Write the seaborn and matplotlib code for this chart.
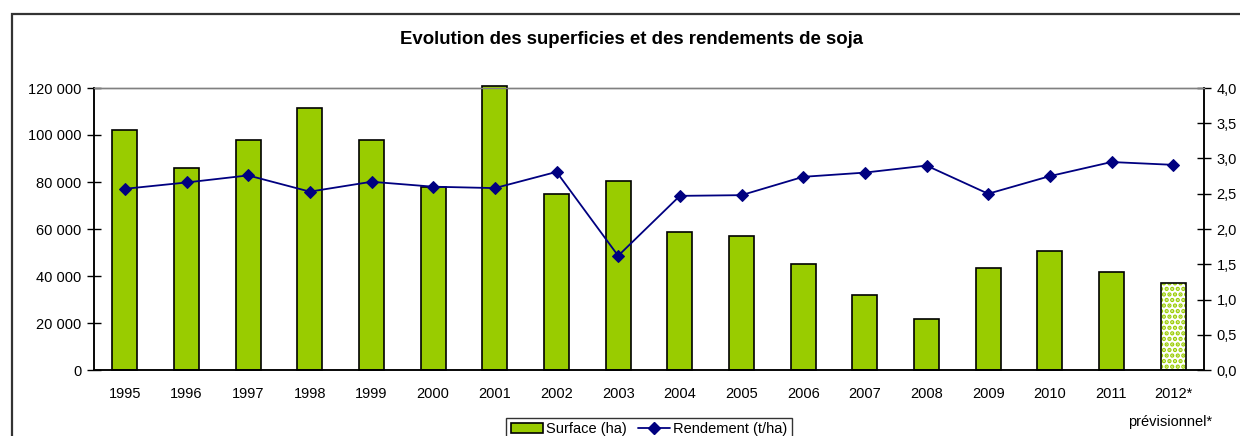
import numpy as np
import matplotlib
matplotlib.use("Agg")
import matplotlib.pyplot as plt
import matplotlib.ticker as mticker
from matplotlib.patches import Patch, Rectangle
from matplotlib.lines import Line2D
import seaborn as sns

# données
years = ["1995", "1996", "1997", "1998", "1999", "2000", "2001", "2002", "2003",
         "2004", "2005", "2006", "2007", "2008", "2009", "2010", "2011", "2012*"]
surface = [102000, 86000, 98000, 111500, 98000, 78000, 121000, 75000, 80500,
           58600, 57000, 45000, 32000, 21700, 43500, 50800, 41800, 37000]
rendement = [2.57, 2.66, 2.76, 2.53, 2.67, 2.60, 2.58, 2.81, 1.62,
             2.47, 2.48, 2.74, 2.80, 2.90, 2.50, 2.75, 2.95, 2.91]

green = "#99CC00"
navy = "#000080"

sns.set_style("white")
plt.rcParams["font.family"] = ["Liberation Sans", "DejaVu Sans"]
plt.rcParams["text.color"] = "black"
plt.rcParams["xtick.color"] = "black"
plt.rcParams["ytick.color"] = "black"
plt.rcParams["hatch.linewidth"] = 2.2

fig = plt.figure(figsize=(12.4, 4.36), dpi=100)
ax = fig.add_axes([94 / 1240, 1 - 370 / 436, 1110 / 1240, 282 / 436])

sns.barplot(x=years, y=surface, color=green, edgecolor="black", linewidth=1.2,
            width=0.41, saturation=1, ax=ax)
for p in ax.patches:
    p.set_clip_on(False)

# barre prévisionnelle 2012 : motif pointillé
last = ax.patches[len(years) - 1]
last.set_facecolor("white")
last.set_edgecolor(green)
last.set_hatch("...")
last.set_linewidth(0)
ax.add_patch(Rectangle((last.get_x(), 0), last.get_width(), last.get_height(),
                       fill=False, edgecolor="black", linewidth=1.2, zorder=3))

ax.set_xlim(-0.5, len(years) - 0.5)
ax.set_ylim(0, 120000)
ax.set_yticks(np.arange(0, 120001, 20000))
ax.yaxis.set_major_formatter(mticker.FuncFormatter(lambda v, p: f"{int(v):,}".replace(",", " ")))
ax.set_xlabel("")
ax.set_ylabel("")
ax.tick_params(axis="y", direction="inout", length=10, width=1, labelsize=10.5, pad=4)
ax.tick_params(axis="x", which="major", length=0, labelsize=10.5, pad=12)
ax.set_xticks(np.arange(-0.5, len(years), 1), minor=True)
ax.tick_params(axis="x", which="minor", direction="out", length=6, width=1)

ax2 = ax.twinx()
sns.lineplot(x=np.arange(len(years)), y=rendement, color=navy, marker="D",
             markersize=6, markeredgecolor=navy, linewidth=1.3, ax=ax2)
ax2.set_ylim(0, 4.0)
ax2.set_yticks(np.arange(0, 4.01, 0.5))
ax2.yaxis.set_major_formatter(mticker.FuncFormatter(lambda v, p: f"{v:.1f}".replace(".", ",")))
ax2.tick_params(axis="y", direction="inout", length=10, width=1, labelsize=10.5, pad=4)
ax2.set_ylabel("")

for a in (ax, ax2):
    for s in ("left", "right", "bottom"):
        a.spines[s].set_color("black")
        a.spines[s].set_linewidth(1.1)
    a.spines["top"].set_color("#808080")
    a.spines["top"].set_linewidth(1.0)
ax.spines["top"].set_zorder(0.5)

# cadre extérieur
fig.patches.append(Rectangle((12 / 1240, -0.1), 1.2, (436 - 14) / 436 + 0.1,
                             transform=fig.transFigure, fill=False,
                             edgecolor="#333333", linewidth=1.6))

fig.text(631 / 1240, 1 - 40 / 436, "Evolution des superficies et des rendements de soja",
         ha="center", va="center", fontsize=13.4, fontweight="bold")
fig.text(1212 / 1240, 1 - 422 / 436, "prévisionnel*", ha="right", va="center", fontsize=10.5)

handles = [Patch(facecolor=green, edgecolor="black", linewidth=1.2),
           Line2D([0], [0], color=navy, marker="D", markersize=6, linewidth=1.3)]
fig.legend(handles, ["Surface (ha)", "Rendement (t/ha)"], loc="upper center",
           bbox_to_anchor=(649 / 1240, 1 - 418 / 436), ncol=2, fontsize=10.5,
           frameon=True, fancybox=False, edgecolor="black", borderpad=0.3,
           handlelength=2.2, handletextpad=0.2, columnspacing=0.8, borderaxespad=0)

fig.savefig("out.png", dpi=100)
